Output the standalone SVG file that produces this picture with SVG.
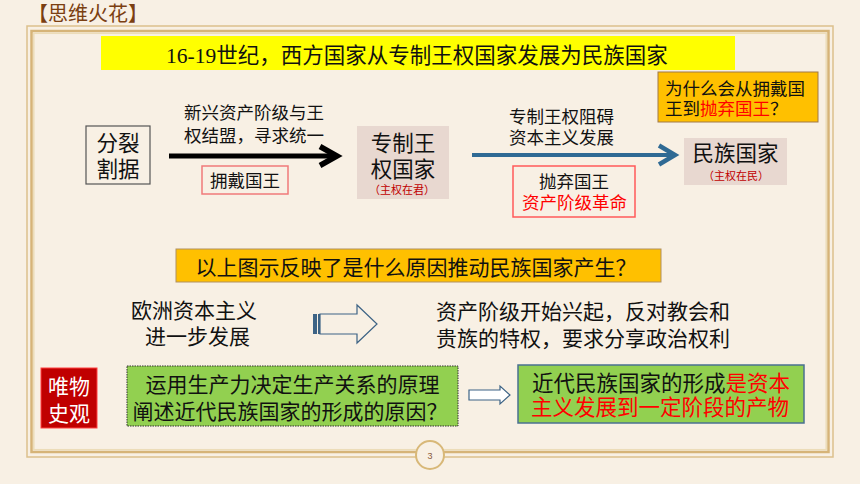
<svg xmlns="http://www.w3.org/2000/svg" width="860" height="484" viewBox="0 0 860 484">
<style>
text{font-family:"Liberation Sans","Noto Sans CJK SC",sans-serif;dominant-baseline:central;}
.t17{font-size:17.5px;fill:#111;}
.t21{font-size:21px;fill:#111;}
.big{font-size:21.5px;fill:#111;}
.sm{font-size:11px;fill:#c00000;}
.red{fill:#ff0000;}
.c{text-anchor:middle;}
.state{fill:#e8d8d0;}
</style>
<rect width="860" height="484" fill="#f8f0e4"/>
<g id="frame" fill="none">
<rect x="27" y="26" width="806" height="431" stroke="#dcc08c" stroke-width="1.5"/>
<rect x="31.5" y="31" width="797" height="421" stroke="#d6b478" stroke-width="2.5"/>
<rect x="33.8" y="33.3" width="792.4" height="416.4" stroke="#ecdcb8" stroke-width="1.5"/>
</g>
<g id="page-num">
<circle cx="430" cy="455" r="14" fill="#f8f0e4" stroke="#d8b878" stroke-width="2"/>
<text x="430" y="455.5" class="c" style="font-size:9px;fill:#8a5a3a">3</text>
</g>
<text id="heading" x="28" y="14" style="font-size:20px;fill:#7b3f12">【思维火花】</text>
<g id="banner">
<rect x="101" y="36" width="634" height="34" fill="#ffff00"/>
<text x="166" y="56" style="font-size:21.5px;fill:#111;font-family:'Liberation Serif','Noto Sans CJK SC',serif">16-19世纪，西方国家从专制王权国家发展为民族国家</text>
</g>
<g id="node-split">
<rect x="86" y="126" width="64" height="58" fill="none" stroke="#555" stroke-width="1.2"/>
<text x="118" y="143.5" class="big c">分裂</text>
<text x="118" y="170" class="big c">割据</text>
</g>
<g id="node-absolute">
<rect x="357" y="126" width="92" height="73" class="state"/>
<text x="403" y="143.5" class="big c">专制王</text>
<text x="403" y="169.5" class="big c">权国家</text>
<text x="402" y="189.5" class="sm c">（主权在君）</text>
</g>
<g id="node-nation">
<rect x="684" y="138" width="103" height="47" class="state"/>
<text x="735.5" y="154" class="big c">民族国家</text>
<text x="736" y="175.5" class="sm c">（主权在民）</text>
</g>
<g id="node-question">
<rect x="658" y="72" width="160" height="50" fill="#ffc000" stroke="#a07848" stroke-width="1"/>
<text x="665" y="88.5" class="t17">为什么会从拥戴国</text>
<text x="665" y="109.3" class="t17">王到<tspan class="red">抛弃国王</tspan>？</text>
</g>
<g id="connectors">
<g id="edge-1">
<line x1="169" y1="156" x2="334" y2="156" stroke="#000" stroke-width="5"/>
<path d="M320,146.5 L337,156 L320,165.5" fill="none" stroke="#000" stroke-width="5.5" stroke-linejoin="miter"/>
<text x="254" y="112.5" class="t17 c">新兴资产阶级与王</text>
<text x="254" y="135.5" class="t17 c">权结盟，寻求统一</text>
<rect x="202" y="166" width="86" height="28" fill="none" stroke="#f07a7a" stroke-width="1.5"/>
<text x="245" y="181" class="t17 c">拥戴国王</text>
</g>
<g id="edge-2">
<line x1="472" y1="155" x2="672" y2="155" stroke="#2f6a94" stroke-width="4"/>
<path d="M659,145.5 L675,155 L659,164.5" fill="none" stroke="#2f6a94" stroke-width="4.5"/>
<text x="561.5" y="116.5" class="t17 c">专制王权阻碍</text>
<text x="561.5" y="137.5" class="t17 c">资本主义发展</text>
<rect x="513" y="166" width="122" height="51" fill="none" stroke="#ff5a5a" stroke-width="1.5"/>
<text x="574" y="181.5" class="t17 c">抛弃国王</text>
<text x="574.5" y="202.5" class="t17 c red">资产阶级革命</text>
</g>
<g id="edge-3">
<rect x="313" y="314" width="4" height="20" fill="#3d6385"/>
<rect x="318" y="314" width="2" height="20" fill="#3d6385"/>
<path d="M320,314 H357 V305 L377,324 L357,343 V334 H320 Z" fill="#f8f0e4" stroke="#3d6385" stroke-width="1.2"/>
</g>
<g id="edge-4">
<path d="M469,390 H500 V386 L510,395 L500,404 V400 H469 Z" fill="#ffffff" stroke="#3d6385" stroke-width="1.2"/>
</g>
</g>
<g id="node-question2">
<rect x="176" y="249" width="485" height="33" fill="#ffc000" stroke="#b09060" stroke-width="1"/>
<text x="416" y="267" class="t21 c">以上图示反映了是什么原因推动民族国家产生？</text>
</g>
<g id="node-cause">
<text x="131" y="310" class="t21">欧洲资本主义</text>
<text x="145" y="336" class="t21">进一步发展</text>
</g>
<g id="node-effect">
<text x="436" y="311" class="t21">资产阶级开始兴起，反对教会和</text>
<text x="436" y="338" class="t21">贵族的特权，要求分享政治权利</text>
</g>
<g id="node-label">
<rect x="41" y="368" width="56" height="60" fill="#c00000" stroke="#ff4040" stroke-width="1"/>
<text x="69" y="386" class="t21 c" style="fill:#fff">唯物</text>
<text x="69" y="413" class="t21 c" style="fill:#fff">史观</text>
</g>
<g id="node-task">
<rect x="127" y="366" width="331" height="60" fill="#92d050" stroke="#333" stroke-width="1" stroke-dasharray="1.5,1"/>
<text x="292.5" y="384" class="t21 c">运用生产力决定生产关系的原理</text>
<text x="290" y="411" class="t21 c">阐述近代民族国家的形成的原因？</text>
</g>
<g id="node-answer">
<rect x="518" y="365" width="286" height="58" fill="#92d050" stroke="#4a7090" stroke-width="1.5"/>
<text x="532" y="384" class="t21" style="font-size:21.5px">近代民族国家的形成<tspan class="red">是资本</tspan></text>
<text x="531" y="408" class="t21 red" style="font-size:21.5px">主义发展到一定阶段的产物</text>
</g>
</svg>
